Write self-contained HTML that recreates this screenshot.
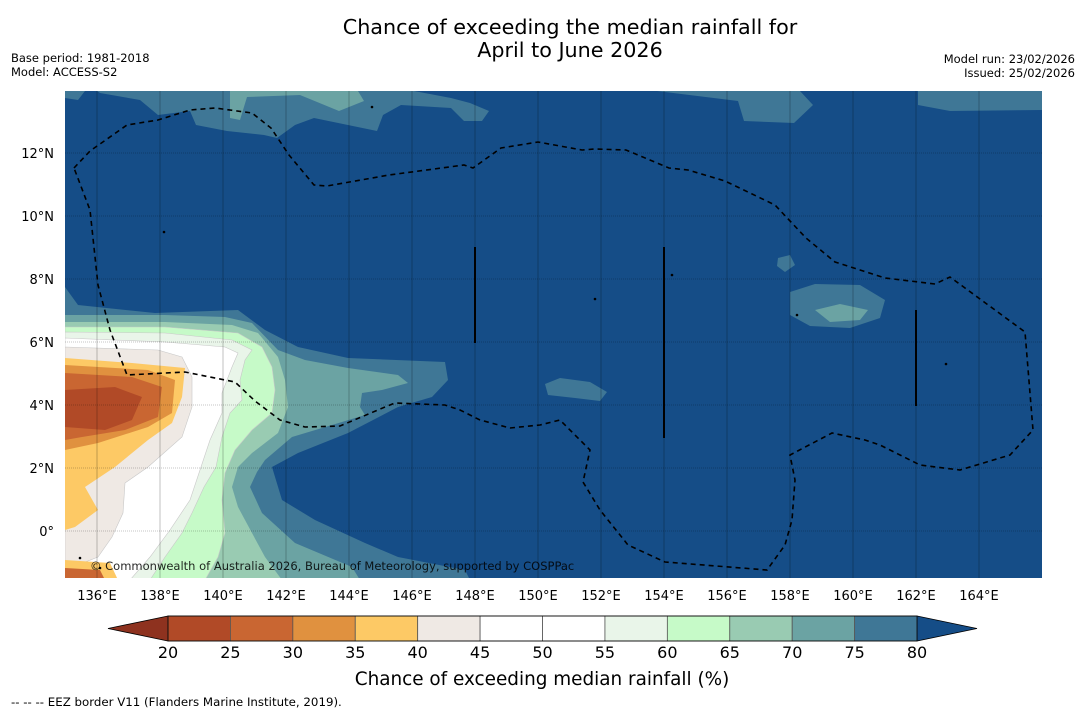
<!DOCTYPE html>
<html><head><meta charset="utf-8">
<style>
html,body{margin:0;padding:0;background:#fff;}
body{width:1085px;height:713px;overflow:hidden;position:relative;font-family:"DejaVu Sans","Liberation Sans",sans-serif;}
svg{position:absolute;left:0;top:0;}
text{font-family:"DejaVu Sans","Liberation Sans",sans-serif;fill:#000;}
</style></head>
<body>
<svg id="chart" width="1085" height="713" viewBox="0 0 1085 713">
  <text x="570" y="34" font-size="20.7" text-anchor="middle">Chance of exceeding the median rainfall for</text>
  <text x="570" y="57" font-size="20.7" text-anchor="middle">April to June 2026</text>
  <text x="11" y="62" font-size="11.5">Base period: 1981-2018</text>
  <text x="11" y="76" font-size="11.5">Model: ACCESS-S2</text>
  <text x="1075" y="63" font-size="11.5" text-anchor="end">Model run: 23/02/2026</text>
  <text x="1075" y="77" font-size="11.5" text-anchor="end">Issued: 25/02/2026</text>
  <defs><clipPath id="mapclip"><rect x="65" y="91" width="977" height="487"/></clipPath></defs>
  <g id="map" clip-path="url(#mapclip)"></g>
  <g id="axes"></g>
  <g id="cbar"></g>
  <text x="542" y="685" font-size="18.4" text-anchor="middle">Chance of exceeding median rainfall (%)</text>
  <text x="11" y="706" font-size="11.8">--  --  -- EEZ border V11 (Flanders Marine Institute, 2019).</text>
</svg>
<script>
// colorbar data
const levels = [20,25,30,35,40,45,50,55,60,65,70,75,80];
const binColors = ["#b14a27","#c96632","#e0913f","#fdc965","#efe9e4","#ffffff","#ffffff","#e9f5e9","#c6fac8","#99cbb2","#6ba3a3","#3f7796"];
const lowColor = "#8e321f", highColor = "#154d87";
const lonTicks = [136,138,140,142,144,146,148,150,152,154,156,158,160,162,164];
const latTicks = [0,2,4,6,8,10,12];

const NS="http://www.w3.org/2000/svg";
function mk(tag, attrs, parent){const e=document.createElementNS(NS,tag);for(const k in attrs)e.setAttribute(k,attrs[k]);parent.appendChild(e);return e;}
// axis functions
const xLon = lon => 97 + (lon-136)*31.5;
const yLat = lat => 531 - lat*31.5;

const map=document.getElementById('map');
const bg=mk('rect',{x:65,y:91,width:977,height:487,fill:highColor},map);



// contour regions [colorIndex, points]
const regions = [
 [11,"65,287 78,305 155,313 238,310 265,330 298,347 348,358 445,362 448,380 432,397 398,407 348,433 298,453 272,467 282,500 315,520 365,543 398,557 465,570 470,580 65,580"],
 [10,"65,315 165,315 225,317 252,323 278,350 305,360 348,368 398,375 408,383 382,390 362,393 360,407 365,415 332,425 292,437 265,460 257,472 250,487 262,513 295,543 352,567 360,580 65,580"],
 [9,"65,322 165,322 232,325 258,333 278,357 285,380 288,407 278,433 252,453 238,467 232,487 238,507 252,533 265,557 282,580 65,580"],
 [8,"65,327 165,327 238,333 262,347 272,367 275,390 272,413 252,430 235,450 225,473 222,500 225,533 218,557 205,580 65,580"],
 [7,"65,332 165,333 232,340 252,350 245,360 240,380 242,400 230,413 222,437 216,467 204,487 192,513 182,533 165,557 150,580 65,580"],
 [6,"65,338 165,342 225,347 238,353 232,367 222,393 222,413 210,440 200,470 190,500 170,530 150,557 130,580 65,580"],
 [4,"65,347 158,350 182,357 192,377 192,407 182,437 148,467 125,483 123,513 112,537 98,557 65,570"],
 [3,"65,358 132,363 185,368 182,397 172,423 148,440 115,467 85,487 98,510 75,527 65,530"],
 [2,"65,365 148,370 175,380 172,413 148,427 98,443 65,450"],
 [1,"65,373 132,377 162,387 158,417 125,430 82,437 65,440"],
 [0,"65,390 115,387 142,397 132,420 105,430 65,427"],
 [3,"65,560 110,563 118,580 65,580"],
 [1,"65,568 100,570 105,580 65,580"],
 // top patches
 [11,"97,91 100,93 140,100 158,115 190,111 196,125 227,131 264,135 277,138 295,125 314,118 377,131 383,115 401,105 451,108 464,121 482,121 489,111 470,103 451,98 414,91"],
 [10,"230,91 230,118 240,120 247,97 300,95 339,111 364,101 358,91"],
 [11,"657,91 738,101 744,121 794,123 813,105 800,91"],
 [11,"918,91 918,105 950,111 1042,110 1042,91"],
 // mid-right patches
 [11,"790,292 815,284 860,285 885,300 880,318 850,328 810,326 790,315"],
 [10,"815,310 840,304 868,310 860,320 830,322"],
 [11,"778,258 790,255 795,265 785,272 777,266"],
 [11,"545,384 560,378 590,382 607,392 600,401 575,398 548,395"],
 [11,"65,91 85,91 78,100 65,98"]
];
regions.forEach((r,i)=>{
  const p=mk('polygon',{points:r[1],fill:binColors[r[0]],stroke:r[0]>=4&&r[0]<=8?"#c8c8c8":"none","stroke-width":0.6},map);
  
  
});

// grid lines
lonTicks.forEach(lon=>{
  const l=mk('line',{x1:xLon(lon),x2:xLon(lon),y1:91,y2:578,stroke:"rgba(0,0,0,0.3)","stroke-width":0.8},map);
  
  
});
latTicks.forEach(lat=>{
  const l=mk('line',{x1:65,x2:1042,y1:yLat(lat),y2:yLat(lat),stroke:"rgba(0,0,0,0.3)","stroke-width":0.8,"stroke-dasharray":"1 1"},map);
  
  
});

// EEZ border
const eez=mk('path',{d:"M74,168 L90,151 L127,125 L158,120 L190,110 L215,108 L252,113 L271,128 L289,155 L314,185 L327,186 L389,175 L464,165 L473,168 L501,148 L538,142 L582,150 L595,149 L626,150 L669,168 L688,170 L725,181 L775,205 L806,238 L835,262 L885,278 L935,284 L950,277 L1025,332 L1033,430 L1010,455 L960,470 L920,465 L880,445 L865,440 L832,433 L790,455 L795,480 L792,520 L785,545 L767,570 L665,562 L628,545 L600,510 L583,482 L590,450 L560,420 L540,425 L510,428 L480,420 L460,410 L445,405 L395,403 L385,407 L340,426 L305,427 L280,420 L255,401 L235,382 L185,372 L127,375 L110,330 L98,285 L90,210 Z",fill:"none",stroke:"#000","stroke-width":1.6,"stroke-dasharray":"5 4"},map);



// vertical black segments
[[475,247,343],[664,247,438],[916,310,406]].forEach(s=>{
  const l=mk('line',{x1:s[0],x2:s[0],y1:s[1],y2:s[2],stroke:"#000","stroke-width":2},map);
  
  
});
// small islands
[[372,107],[164,232],[797,315],[946,364],[672,275],[595,299],[80,558],[100,568]].forEach(p=>{
  const c=mk('circle',{cx:p[0],cy:p[1],r:1.3,fill:"#000"},map);
  
  
});
const cr=mk('text',{x:90,y:570,"font-size":11.5,fill:"#666","fill-opacity":0.85},map);
cr.textContent="© Commonwealth of Australia 2026, Bureau of Meteorology, supported by COSPPac";



// axis labels
const axes=document.getElementById('axes');
lonTicks.forEach(lon=>{
  const t=mk('text',{x:xLon(lon),y:600,"font-size":13,"text-anchor":"middle"},axes);
  t.textContent=lon+"°E";
  
  
});
latTicks.forEach(lat=>{
  const t=mk('text',{x:54,y:yLat(lat)+5,"font-size":13,"text-anchor":"end"},axes);
  t.textContent=lat===0?"0°":lat+"°N";
  
  
});

// colorbar
const cb=document.getElementById('cbar');
const cx0=168, segW=62.42, cy0=616, cyH=25;
const cX = v => cx0 + (v-levels[0])/5*segW;
const lo=mk('polygon',{points:`${cX(levels[0])},${cy0} 108,${cy0+cyH/2} ${cX(levels[0])},${cy0+cyH}`,fill:lowColor,stroke:"#000","stroke-width":0.8},cb);


const xe=cX(levels[levels.length-1]);
const hi=mk('polygon',{points:`${xe},${cy0} 977,${cy0+cyH/2} ${xe},${cy0+cyH}`,fill:highColor,stroke:"#000","stroke-width":0.8},cb);


binColors.forEach((c,i)=>{
  const r=mk('rect',{x:cX(levels[i]),y:cy0,width:cX(levels[i+1])-cX(levels[i]),height:cyH,fill:c,stroke:"#555","stroke-width":0.8},cb);
  
  
});
mk('rect',{x:cx0,y:cy0,width:xe-cx0,height:cyH,fill:"none",stroke:"#000","stroke-width":0.8},cb);
levels.forEach(v=>{
  const t=mk('text',{x:cX(v),y:658,"font-size":16,"text-anchor":"middle"},cb);
  t.textContent=v;
  
  
});
</script>
</body></html>
